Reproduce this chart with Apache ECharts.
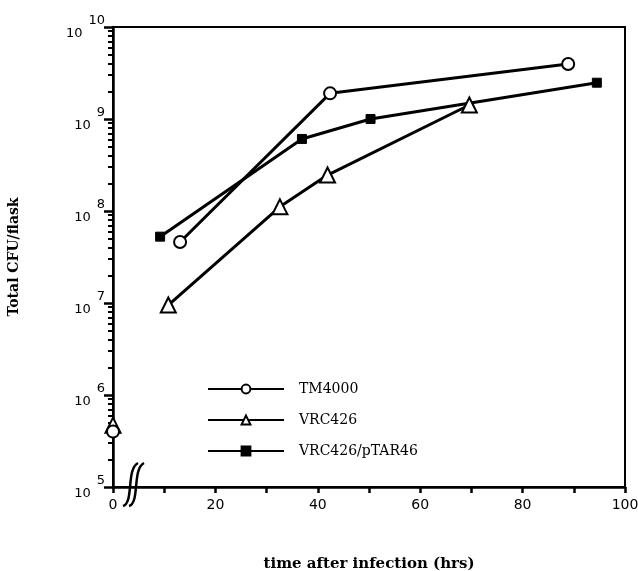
<!DOCTYPE html>
<html>
<head>
<meta charset="utf-8">
<script src="https://cdn.jsdelivr.net/npm/echarts@6/dist/echarts.min.js"></script>
<style>html,body{margin:0;padding:0;background:#fff}#c{width:638px;height:571px}</style>
</head>
<body>
<div id="c"></div>
<script>
// Data (x = hours after infection, y = total CFU/flask)
// 0-hour inocula are drawn as separate, unconnected points
const tm4000StartX = [0];
const tm4000StartY = [4.0e5];
const tm4000X = [13.1, 42.4, 88.9];
const tm4000Y = [4.6e7, 1.9e9, 3.96e9];
const vrc426StartX = [0];
const vrc426StartY = [4.7e5];
const vrc426X = [10.8, 32.6, 41.9, 69.6];
const vrc426Y = [9.5e6, 1.11e8, 2.46e8, 1.42e9];
const ptarX = [9.2, 36.9, 50.3, 94.5];
const ptarY = [5.26e7, 6.07e8, 1.0e9, 2.48e9];
const xTickLabels = [0, 20, 40, 60, 80, 100];
const yDecades = [1e5, 1e6, 1e7, 1e8, 1e9, 1e10];
const seriesNames = ['TM4000', 'VRC426', 'VRC426/pTAR46'];

const minorVals = [];
for (let e = 5; e < 10; e++) for (let k = 2; k <= 9; k++) minorVals.push(k * Math.pow(10, e));

const zip = (xs, ys) => xs.map((x, i) => [x, ys[i]]);
const chart = echarts.init(document.getElementById('c'));

const openStyle = { color: '#fff', borderColor: '#000', borderWidth: 2, opacity: 1 };
const lineCommon = {
  type: 'line',
  lineStyle: { color: '#000', width: 3 },
  itemStyle: openStyle,
  emphasis: { disabled: true },
  z: 3
};
const startCommon = {
  type: 'scatter', itemStyle: openStyle, emphasis: { disabled: true }, z: 4
};

chart.setOption({
  animation: false,
  grid: { left: 113, right: 13, top: 27, bottom: 84, show: true, borderColor: '#000', borderWidth: 2,
          containLabel: false, outerBoundsMode: 'none' },
  legend: {
    orient: 'vertical', left: 202, top: 377, itemWidth: 76, itemHeight: 11, itemGap: 17,
    textStyle: { fontFamily: 'DejaVu Serif', fontSize: 14, color: '#000', padding: [0, 0, 0, 10] },
    data: seriesNames
  },
  xAxis: {
    type: 'value', min: 0, max: 100, interval: 10,
    axisLine: { lineStyle: { color: '#000', width: 2.5 } },
    axisTick: { show: true, length: 6, lineStyle: { color: '#000', width: 2.5 } },
    splitLine: { show: false },
    axisLabel: {
      customValues: xTickLabels, color: '#000', fontFamily: 'DejaVu Sans', fontSize: 14, margin: 11
    },
    name: 'time after infection (hrs)', nameLocation: 'middle', nameGap: 70,
    nameTextStyle: { fontFamily: 'DejaVu Serif', fontWeight: 'bold', fontSize: 15, color: '#000' }
  },
  yAxis: [{
    type: 'log', logBase: 10, min: 1e5, max: 1e10,
    axisLine: { lineStyle: { color: '#000', width: 2.5 } },
    axisTick: { show: true, length: 9, lineStyle: { color: '#000', width: 2.5 } },
    splitLine: { show: false },
    axisLabel: {
      customValues: yDecades, margin: 8, color: '#000',
      formatter: v => '{b|10}{s|' + Math.round(Math.log10(v)) + '}',
      rich: {
        b: { fontFamily: 'DejaVu Sans', fontSize: 13, color: '#000', lineHeight: 26, verticalAlign: 'bottom' },
        s: { fontFamily: 'DejaVu Sans', fontSize: 13, color: '#000', verticalAlign: 'top', padding: [0, 0, 0, 6] }
      }
    },
    name: 'Total CFU/flask', nameLocation: 'middle', nameGap: 92, nameRotate: 90,
    nameTextStyle: { fontFamily: 'DejaVu Serif', fontWeight: 'bold', fontSize: 14, color: '#000' }
  }, {
    type: 'log', logBase: 10, min: 1e5, max: 1e10, position: 'left',
    axisLine: { show: false },
    axisTick: { show: true, length: 5, customValues: minorVals, lineStyle: { color: '#000', width: 2 } },
    axisLabel: { show: false },
    splitLine: { show: false }
  }],
  series: [
    Object.assign({}, lineCommon, { name: seriesNames[0], symbol: 'circle', symbolSize: 12, data: zip(tm4000X, tm4000Y) }),
    Object.assign({}, lineCommon, { name: seriesNames[1], symbol: 'triangle', symbolSize: 15, data: zip(vrc426X, vrc426Y) }),
    Object.assign({}, lineCommon, { name: seriesNames[2], symbol: 'rect', symbolSize: 9,
      itemStyle: { color: '#000', borderColor: '#000', borderWidth: 1 }, data: zip(ptarX, ptarY) }),
    Object.assign({}, startCommon, { name: seriesNames[1], symbol: 'triangle', symbolSize: 15, data: zip(vrc426StartX, vrc426StartY) }),
    Object.assign({}, startCommon, { name: seriesNames[0], symbol: 'circle', symbolSize: 12, data: zip(tm4000StartX, tm4000StartY) })
  ]
});

// axis break mark "//" near x ≈ 4.3 on the x axis
const p = chart.convertToPixel({ gridIndex: 0 }, [4.3, 1e5]);
const brk = [];
[-3, 3].forEach(dx => {
  const cx = p[0] + dx, cy = p[1];
  brk.push({
    type: 'bezierCurve', silent: true, z: 10,
    shape: { x1: cx - 9, y1: cy + 19, cpx1: cx + 2, cpy1: cy + 16, cpx2: cx - 6, cpy2: cy - 18, x2: cx + 6, y2: cy - 24 },
    style: { stroke: '#000', lineWidth: 2.5, fill: null }
  });
});
chart.setOption({ graphic: brk });
</script>
</body>
</html>
